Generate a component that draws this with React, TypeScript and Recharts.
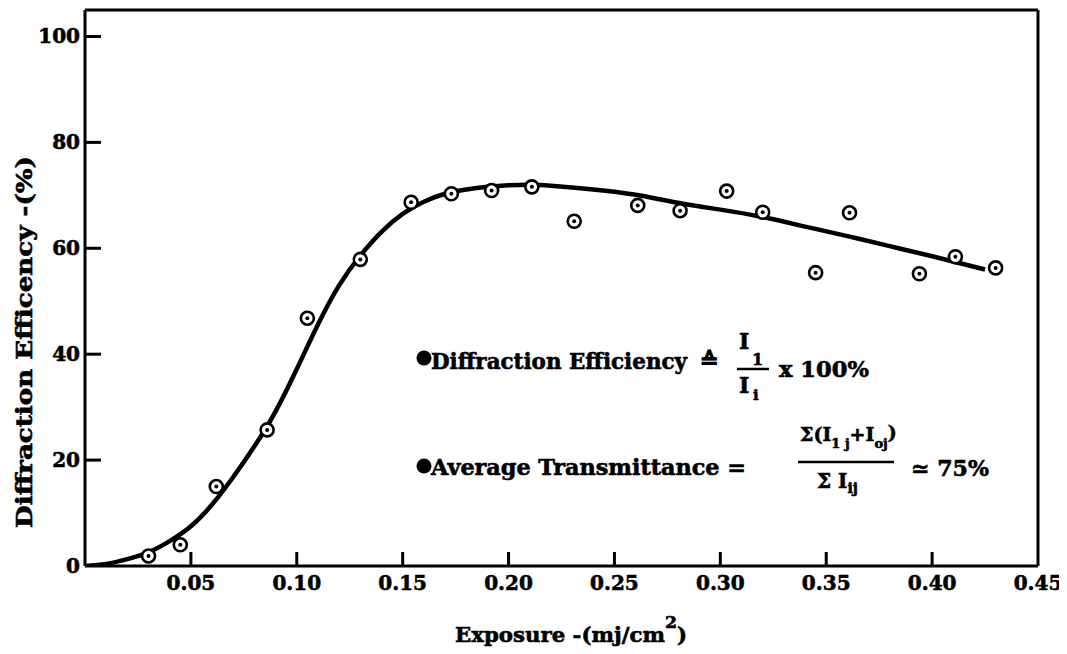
import React from 'react';
import { ComposedChart, Line, Scatter, XAxis, YAxis, ReferenceLine } from 'recharts';

// fitted curve
const curveX = [0, 0.01, 0.02, 0.03, 0.04, 0.05, 0.06, 0.07, 0.08, 0.09, 0.1, 0.11, 0.12, 0.13, 0.14, 0.15, 0.16, 0.17, 0.18, 0.19, 0.2, 0.21, 0.22, 0.24, 0.26, 0.28, 0.3, 0.32, 0.34, 0.36, 0.38, 0.4, 0.425];
const curveY = [0, 0.4, 1.3, 2.6, 4.7, 7.5, 11.6, 16.8, 22.6, 29.2, 37.2, 45.6, 53.0, 58.6, 63.1, 66.5, 68.8, 70.3, 71.1, 71.6, 71.9, 72.0, 71.8, 71.1, 70.1, 68.6, 67.3, 65.9, 64.1, 62.3, 60.4, 58.5, 56.0];

// measured points
const pointX = [0.030, 0.045, 0.062, 0.086, 0.105, 0.130, 0.154, 0.173, 0.192, 0.211, 0.231, 0.261, 0.281, 0.303, 0.320, 0.345, 0.361, 0.394, 0.411, 0.430];
const pointY = [1.9, 4.0, 15.0, 25.7, 46.8, 57.9, 68.7, 70.3, 70.9, 71.6, 65.1, 68.1, 67.1, 70.8, 66.8, 55.4, 66.7, 55.2, 58.4, 56.3];

const xTicks = [0.05, 0.1, 0.15, 0.2, 0.25, 0.3, 0.35, 0.4, 0.45];
const yTicks = [0, 20, 40, 60, 80, 100];

const curve = curveX.map((x, i) => ({ x, y: curveY[i] }));
const points = pointX.map((x, i) => ({ x, y: pointY[i] }));

const FONT = 'DejaVu Serif';
const heavy = { fontFamily: FONT, fontWeight: 'bold' as const, fill: '#000', stroke: '#000', strokeWidth: 0.6 };

const XTick = ({ x, y, payload }: any) => (
  <g>
    {payload.value < 0.44 && <line x1={x} x2={x} y1={y} y2={y - 14} stroke="#000" strokeWidth={3} />}
    <text x={x} y={y + 24} textAnchor="middle" fontSize={20} {...heavy}>
      {payload.value.toFixed(2)}
    </text>
  </g>
);

const YTick = ({ x, y, payload }: any) => (
  <g>
    {payload.value > 0 && <line x1={x} x2={x + 16} y1={y} y2={y} stroke="#000" strokeWidth={3} />}
    <text x={x - 5} y={y + 7} textAnchor="end" fontSize={20} {...heavy}>
      {payload.value}
    </text>
  </g>
);

const Ring = ({ cx, cy }: any) => (
  <g>
    <circle cx={cx} cy={cy} r={6.5} fill="#fff" stroke="#000" strokeWidth={2.6} />
    <circle cx={cx} cy={cy} r={2} fill="#000" />
  </g>
);

const W = 1059;
const H = 646;

export default function App() {
  const t = heavy;
  return (
    <div style={{ position: 'relative', width: W, height: H, background: '#fff' }}>
      <ComposedChart width={W} height={H} margin={{ top: 2, right: 29, bottom: 0, left: 0 }}>
        <XAxis
          type="number"
          dataKey="x"
          domain={[0, 0.45]}
          ticks={xTicks}
          interval={0}
          tickSize={0}
          tickMargin={0}
          tick={<XTick />}
          axisLine={{ stroke: '#000', strokeWidth: 3 }}
          height={88}
          allowDataOverflow
        />
        <YAxis
          type="number"
          dataKey="y"
          domain={[0, 105]}
          ticks={yTicks}
          interval={0}
          tickSize={0}
          tickMargin={0}
          tick={<YTick />}
          axisLine={{ stroke: '#000', strokeWidth: 3 }}
          width={77}
          allowDataOverflow
        />
        <ReferenceLine y={105} stroke="#000" strokeWidth={3} />
        <ReferenceLine x={0.45} stroke="#000" strokeWidth={3} />
        <Line data={curve} dataKey="y" type="natural" stroke="#000" strokeWidth={4.5} dot={false} isAnimationActive={false} />
        <Scatter data={points} dataKey="y" shape={<Ring />} isAnimationActive={false} />
      </ComposedChart>

      <svg width={W} height={H} style={{ position: 'absolute', left: 0, top: 0, pointerEvents: 'none' }}>
        {/* axis titles */}
        <text {...t} fontSize={22} textAnchor="middle" textLength={372} lengthAdjust="spacingAndGlyphs"
          transform="translate(24,334) rotate(-90)">Diffraction  Efficency  -(%)</text>
        <text {...t} fontSize={21} x={447} y={634} textLength={232} lengthAdjust="spacingAndGlyphs">
          Exposure -(mj/cm<tspan dy={-14} fontSize={17}>2</tspan><tspan dy={14}>)</tspan>
        </text>

        {/* first formula */}
        <circle cx={416} cy={350} r={7.5} fill="#000" />
        <text {...t} fontSize={22} x={423} y={361} textLength={256} lengthAdjust="spacingAndGlyphs">Diffraction  Efficiency</text>
        <text {...t} fontSize={22} x={701} y={360} textAnchor="middle">≙</text>
        <text {...t} fontSize={22} x={731} y={341}>I</text>
        <text {...t} fontSize={16} x={744} y={357}>1</text>
        <line x1={729} x2={761} y1={361} y2={361} stroke="#000" strokeWidth={2.5} />
        <text {...t} fontSize={22} x={731} y={385}>I</text>
        <text {...t} fontSize={15} x={745} y={392}>i</text>
        <text {...t} fontSize={22} x={771} y={369} textLength={90} lengthAdjust="spacingAndGlyphs">x  100%</text>

        {/* second formula */}
        <circle cx={416} cy={458} r={7.5} fill="#000" />
        <text {...t} fontSize={22} x={423} y={467} textLength={315} lengthAdjust="spacingAndGlyphs">Average  Transmittance  =</text>
        <text {...t} fontSize={19} x={792} y={433}>
          Σ(I<tspan dy={7} fontSize={13}>1 j</tspan><tspan dy={-7}>+I</tspan><tspan dy={7} fontSize={13}>oj</tspan><tspan dy={-9}>)</tspan>
        </text>
        <line x1={790} x2={886} y1={454} y2={454} stroke="#000" strokeWidth={2.5} />
        <text {...t} fontSize={20} x={809} y={480}>
          Σ I<tspan dy={5} fontSize={14}>ij</tspan>
        </text>
        <text {...t} fontSize={22} x={903} y={468} textLength={78} lengthAdjust="spacingAndGlyphs">≃  75%</text>
      </svg>
    </div>
  );
}
